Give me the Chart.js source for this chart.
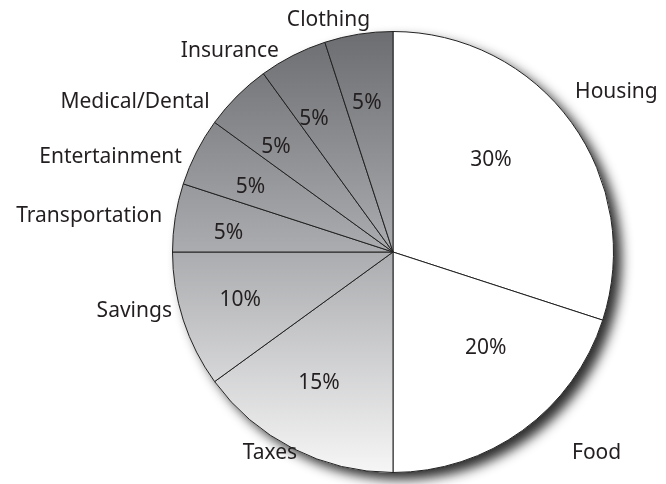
<!DOCTYPE html>
<html>
<head>
<meta charset="utf-8">
<script src="https://cdn.jsdelivr.net/npm/chart.js@4/dist/chart.umd.min.js"></script>
<style>
  html, body { margin: 0; padding: 0; background: #fff; }
  #wrap { width: 666px; height: 484px; }
</style>
</head>
<body>
<div id="wrap"><canvas id="budgetChart"></canvas></div>
<script>
const categories = ["Housing", "Food", "Taxes", "Savings", "Transportation", "Entertainment", "Medical/Dental", "Insurance", "Clothing"];
const shares = [30, 20, 15, 10, 5, 5, 5, 5, 5];
const shaded = [false, false, true, true, true, true, true, true, true];

// pixel nudges for the text, measured from the slice mid-angle
const nameNudge = [[45, -30], [74, 23], [-23, 5], [-49, -9], [-86, -1], [-86, 5], [-102, 6], [-63, -5], [-30, -14]];
const pctNudge = [[-27, -1], [2, -29], [-4, -7], [-6, 0], [-12, 5], [-5, 5], [-8, 4], [-9, 5], [-2, 3]];

const FONT = '21px "Noto Sans", "Open Sans", sans-serif';

function grayFill(ctx) {
    const chart = ctx.chart;
    const area = chart.chartArea;
    if (!area) return "#aaa";
    if (!shaded[ctx.dataIndex]) return "#ffffff";
    const g = chart.ctx.createLinearGradient(0, area.top, 0, area.bottom);
    g.addColorStop(0, "#6c6d70");
    g.addColorStop(0.5, "#abacaf");
    g.addColorStop(1, "#f6f6f6");
    return g;
}

const shadowPlugin = {
    id: "shadow",
    beforeDatasetsDraw(chart) {
        const arc = chart.getDatasetMeta(0).data[0];
        if (!arc) return;
        const c = chart.ctx;
        c.save();
        c.shadowColor = "rgba(35,35,35,0.95)";
        c.shadowBlur = 12;
        c.shadowOffsetX = 8;
        c.shadowOffsetY = 7;
        c.fillStyle = "#fff";
        c.beginPath();
        c.arc(arc.x, arc.y, arc.outerRadius, 0, Math.PI * 2);
        c.fill();
        c.restore();
    }
};

const textPlugin = {
    id: "sliceText",
    afterDatasetsDraw(chart) {
        const c = chart.ctx;
        const arcs = chart.getDatasetMeta(0).data;
        c.save();
        c.font = FONT;
        c.fillStyle = "#231f20";
        c.textAlign = "center";
        c.textBaseline = "middle";
        arcs.forEach((arc, i) => {
            const mid = (arc.startAngle + arc.endAngle) / 2;
            const cos = Math.cos(mid), sin = Math.sin(mid);
            const r = arc.outerRadius;
            c.fillText(categories[i], arc.x + cos * r + nameNudge[i][0], arc.y + sin * r + nameNudge[i][1]);
            c.fillText(shares[i] + "%", arc.x + cos * r * 0.7 + pctNudge[i][0], arc.y + sin * r * 0.7 + pctNudge[i][1]);
        });
        c.restore();
    }
};

new Chart(document.getElementById("budgetChart"), {
    type: "pie",
    data: {
        labels: categories,
        datasets: [{
            data: shares,
            backgroundColor: grayFill,
            borderColor: "#222",
            borderWidth: 1,
            borderJoinStyle: "miter"
        }]
    },
    options: {
        responsive: true,
        maintainAspectRatio: false,
        animation: false,
        layout: { padding: { left: 172, right: 52, top: 31, bottom: 11 } },
        plugins: {
            legend: { display: false },
            tooltip: { enabled: false }
        }
    },
    plugins: [shadowPlugin, textPlugin]
});
</script>
</body>
</html>
